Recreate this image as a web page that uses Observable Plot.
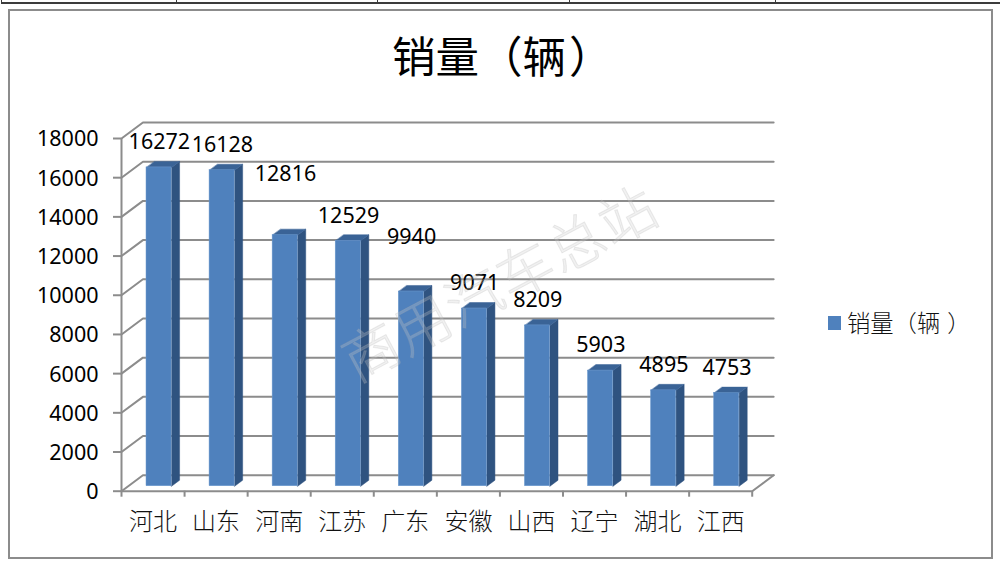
<!DOCTYPE html>
<html><head><meta charset="utf-8">
<script src="https://cdn.jsdelivr.net/npm/d3@7"></script>
<script src="https://cdn.jsdelivr.net/npm/@observablehq/plot@0.6"></script>
<style>
html,body{margin:0;padding:0;background:#fff;overflow:hidden}
#page{position:relative;width:1000px;height:569px;font-family:"Noto Sans CJK SC","Noto Sans",sans-serif}
#page>*{position:absolute}
#chart{left:0;top:0}
#frame{left:8px;top:9px;width:981px;height:546px;border:2px solid #8c8c8c}
.rule{background:#3c3c3c}
#title{left:392px;top:25px;line-height:60px;white-space:nowrap;font-size:43.5px;font-weight:400;color:#000}
#swatch{left:828px;top:316px;width:13px;height:14px;background:#4f81bd}
#legend{left:847px;top:306px;line-height:32px;font-size:23.3px;font-weight:300;color:#111;white-space:nowrap}
#title .close{padding-left:.07em}
#legend .close{padding-left:.3em}
.cell{display:inline-block;width:1em;text-align:center}
.open{text-align:right}
.close{text-align:left}
#mark{left:345px;top:327px;font-size:56px;line-height:70px;white-space:nowrap;font-weight:300;color:rgba(205,205,205,.28);-webkit-text-stroke:1px rgba(175,175,175,.22);transform:rotate(-28deg);transform-origin:0 50%;letter-spacing:2px}
</style></head>
<body><div id="page"></div>
<script>
const categories = ["河北","山东","河南","江苏","广东","安徽","山西","辽宁","湖北","江西"];
const sales = [16272,16128,12816,12529,9940,9071,8209,5903,4895,4753];
const yTicks = [0,2000,4000,6000,8000,10000,12000,14000,16000,18000];
const seriesName = "销量（辆）";
const watermark = "商用汽车总站";
const topRuleTicks = [1,176,377,569,775];

// oblique projection: depth d in 0..1 moves a point back along the floor
const depthX = 0.34, depthY = 816;
const barStart = 0.291, barWidth = 0.397, d1 = 0.31, d2 = 0.685;
const unitsPerPx = 51;
const labelLift = {"河南":66,"广东":59};   // labels the original moved by hand
const P = (x, v, d) => ({x: x + d * depthX, y: v + d * depthY});

const rows = categories.map((c, i) => ({c, i, v: sales[i]}));
const poly = (pts, id) => pts.map(p => ({...p, id}));
const sides = rows.map(r => { const a = r.i + barStart, b = a + barWidth;
  return poly([P(b,0,d1),P(b,0,d2),P(b,r.v,d2),P(b,r.v,d1)], r.c); }).flat();
const tops = rows.map(r => { const a = r.i + barStart, b = a + barWidth;
  return poly([P(a,r.v,d1),P(b,r.v,d1),P(b,r.v,d2),P(a,r.v,d2)], r.c); }).flat();
const grid = yTicks.map(t => poly([P(0,t,0),P(0,t,1),P(10,t,1)], t)).flat();
const floorEdge = poly([P(10,0,0),P(10,0,1)], "edge");

const gridColor = "#8c8c8c", font = '"Noto Sans","Noto Sans CJK SC",sans-serif', lw = 2;

const chart = Plot.plot({
  width: 1000, height: 569,
  marginLeft: 121, marginRight: 248.3, marginTop: 138, marginBottom: 78.3,
  x: {domain: [0, 10], axis: null},
  y: {domain: [0, 18000], axis: null},
  style: {fontFamily: font, background: "transparent"},
  marks: [
    Plot.line(grid, {x: "x", y: "y", z: "id", stroke: gridColor, strokeWidth: lw}),
    Plot.line(floorEdge, {x: "x", y: "y", z: "id", stroke: gridColor, strokeWidth: lw}),
    Plot.ruleX([0], {y1: 0, y2: 18000, stroke: gridColor, strokeWidth: lw}),
    Plot.ruleY([0], {x1: 0, x2: 10, stroke: gridColor, strokeWidth: lw}),
    Plot.axisY({ticks: yTicks, tickSize: 8, tickFormat: () => "", stroke: gridColor, strokeWidth: lw, label: null}),
    Plot.axisY({ticks: yTicks, tickSize: 0, tickPadding: 23, dy: 1, fontSize: 21.5, fill: "#000",
      tickFormat: d => String(d), label: null}),
    Plot.axisX({ticks: d3.range(0, 11), tickSize: 6, tickFormat: () => "", stroke: gridColor, strokeWidth: lw, label: null}),
    Plot.axisX({ticks: d3.range(0, 10).map(i => i + 0.5), tickSize: 0, tickPadding: 22, fontSize: 24, fill: "#111",
      fontFamily: '"Noto Sans CJK SC",sans-serif', fontWeight: 300, tickFormat: d => categories[Math.floor(d)], label: null}),
    Plot.line(sides, {x: "x", y: "y", z: "id", fill: "#2f5380", stroke: "#2f5380", strokeWidth: .5, curve: "linear-closed"}),
    Plot.line(tops, {x: "x", y: "y", z: "id", fill: "#3a6396", stroke: "#3a6396", strokeWidth: .5, curve: "linear-closed"}),
    Plot.rectY(rows, {
      x1: r => r.i + barStart + d1 * depthX,
      x2: r => r.i + barStart + barWidth + d1 * depthX,
      y1: d1 * depthY,
      y2: r => r.v + d1 * depthY,
      fill: "#4f81bd", stroke: "#6f9bcf", strokeWidth: .5
    }),
    Plot.text(rows, {
      x: r => r.i + 0.6,
      y: r => r.v + (labelLift[r.c] ?? 30) * unitsPerPx,
      text: r => String(r.v), fontSize: 21.5, fill: "#000"
    })
  ]
});
chart.id = "chart";

const page = document.getElementById("page");
const add = (tag, id, text) => { const e = document.createElement(tag); if (id) e.id = id; if (text) e.textContent = text; page.appendChild(e); return e; };
// full-width cells, so the brackets keep the em width they have in the reference
const addCells = (id, text) => { const e = add("div", id);
  for (const ch of text) { const s = document.createElement("span");
    s.className = "cell" + (ch === "（" ? " open" : ch === "）" ? " close" : "");
    s.textContent = ch; e.appendChild(s); }
  return e; };
page.appendChild(chart);
add("div", "frame");
const r = add("div", null); r.className = "rule"; r.style.cssText = "left:1px;top:2px;width:999px;height:1.5px";
topRuleTicks.forEach(x => { const t = add("div", null); t.className = "rule"; t.style.cssText = `left:${x}px;top:0;width:1.2px;height:3px`; });
addCells("title", seriesName);
add("div", "swatch");
addCells("legend", seriesName);
add("div", "mark", watermark);
</script>
</body></html>
